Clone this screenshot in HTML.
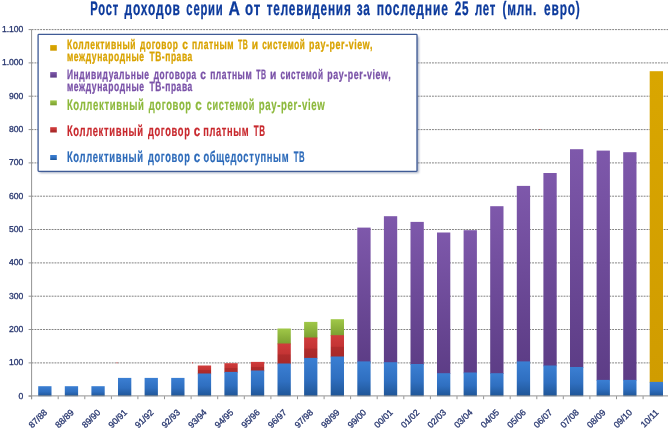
<!DOCTYPE html>
<html lang="ru"><head><meta charset="utf-8"><title>Рост доходов серии А</title>
<style>
html,body{margin:0;padding:0;background:#fff;}
body{width:668px;height:430px;overflow:hidden;}
svg{display:block;}
text{font-family:"Liberation Sans","DejaVu Sans",sans-serif;text-rendering:geometricPrecision;}
.t{font-weight:bold;}
.ax{font-size:8.6px;fill:#27366f;stroke:#27366f;stroke-width:0.3px;}
.xl{font-size:8.8px;fill:#27366f;stroke:#27366f;stroke-width:0.3px;}
</style></head><body>
<svg width="668" height="430" viewBox="0 0 668 430">
<defs>
<linearGradient id="gb" x1="0" y1="0" x2="0" y2="1"><stop offset="0" stop-color="#3b7fd3"/><stop offset="0.55" stop-color="#2f6fc0"/><stop offset="1" stop-color="#1f5596"/></linearGradient>
<linearGradient id="gr" x1="0" y1="0" x2="0" y2="1"><stop offset="0" stop-color="#d03c3c"/><stop offset="0.5" stop-color="#c43434"/><stop offset="0.55" stop-color="#b02c2c"/><stop offset="1" stop-color="#a82828"/></linearGradient>
<linearGradient id="gg" x1="0" y1="0" x2="0" y2="1"><stop offset="0" stop-color="#a0c848"/><stop offset="1" stop-color="#7a9e30"/></linearGradient>
<linearGradient id="gp" x1="0" y1="0" x2="0" y2="1"><stop offset="0" stop-color="#7e58ab"/><stop offset="1" stop-color="#5d3d86"/></linearGradient>
<linearGradient id="gy" x1="0" y1="0" x2="0" y2="1"><stop offset="0" stop-color="#d9a600"/><stop offset="1" stop-color="#d09c00"/></linearGradient>
<filter id="sh" x="-5%" y="-5%" width="110%" height="112%"><feGaussianBlur stdDeviation="1.2"/></filter>
</defs>
<rect width="668" height="430" fill="#fff"/>

<line x1="31.6" y1="362.9" x2="668" y2="362.9" stroke="#828282" stroke-width="1" stroke-dasharray="1.9 0.96"/>
<line x1="31.6" y1="329.5" x2="668" y2="329.5" stroke="#828282" stroke-width="1" stroke-dasharray="1.9 0.96"/>
<line x1="31.6" y1="296.2" x2="668" y2="296.2" stroke="#828282" stroke-width="1" stroke-dasharray="1.9 0.96"/>
<line x1="31.6" y1="262.9" x2="668" y2="262.9" stroke="#828282" stroke-width="1" stroke-dasharray="1.9 0.96"/>
<line x1="31.6" y1="229.5" x2="668" y2="229.5" stroke="#828282" stroke-width="1" stroke-dasharray="1.9 0.96"/>
<line x1="31.6" y1="196.2" x2="668" y2="196.2" stroke="#828282" stroke-width="1" stroke-dasharray="1.9 0.96"/>
<line x1="31.6" y1="162.9" x2="668" y2="162.9" stroke="#828282" stroke-width="1" stroke-dasharray="1.9 0.96"/>
<line x1="31.6" y1="129.6" x2="668" y2="129.6" stroke="#828282" stroke-width="1" stroke-dasharray="1.9 0.96"/>
<line x1="31.6" y1="96.2" x2="668" y2="96.2" stroke="#828282" stroke-width="1" stroke-dasharray="1.9 0.96"/>
<line x1="31.6" y1="62.9" x2="668" y2="62.9" stroke="#828282" stroke-width="1" stroke-dasharray="1.9 0.96"/>
<line x1="31.6" y1="29.6" x2="668" y2="29.6" stroke="#828282" stroke-width="1" stroke-dasharray="1.9 0.96"/>
<rect x="38.2" y="386.2" width="13.3" height="10.0" fill="url(#gb)"/>
<rect x="64.8" y="386.2" width="13.3" height="10.0" fill="url(#gb)"/>
<rect x="91.4" y="386.2" width="13.3" height="10.0" fill="url(#gb)"/>
<rect x="118.0" y="377.9" width="13.3" height="18.3" fill="url(#gb)"/>
<rect x="144.6" y="377.9" width="13.3" height="18.3" fill="url(#gb)"/>
<rect x="171.2" y="377.9" width="13.3" height="18.3" fill="url(#gb)"/>
<rect x="197.8" y="365.5" width="13.3" height="8.8" fill="url(#gr)"/>
<rect x="197.8" y="373.5" width="13.3" height="22.7" fill="url(#gb)"/>
<rect x="224.4" y="363.2" width="13.3" height="9.5" fill="url(#gr)"/>
<rect x="224.4" y="371.9" width="13.3" height="24.3" fill="url(#gb)"/>
<rect x="250.9" y="361.9" width="13.3" height="9.5" fill="url(#gr)"/>
<rect x="250.9" y="370.5" width="13.3" height="25.7" fill="url(#gb)"/>
<rect x="277.5" y="328.5" width="13.3" height="15.8" fill="url(#gg)"/>
<rect x="277.5" y="343.5" width="13.3" height="20.8" fill="url(#gr)"/>
<rect x="277.5" y="363.5" width="13.3" height="32.7" fill="url(#gb)"/>
<rect x="304.1" y="321.9" width="13.3" height="16.5" fill="url(#gg)"/>
<rect x="304.1" y="337.5" width="13.3" height="21.1" fill="url(#gr)"/>
<rect x="304.1" y="357.9" width="13.3" height="38.3" fill="url(#gb)"/>
<rect x="330.7" y="319.2" width="13.3" height="16.8" fill="url(#gg)"/>
<rect x="330.7" y="335.2" width="13.3" height="22.1" fill="url(#gr)"/>
<rect x="330.7" y="356.5" width="13.3" height="39.7" fill="url(#gb)"/>
<rect x="357.3" y="227.6" width="13.3" height="134.6" fill="url(#gp)"/>
<rect x="357.3" y="361.4" width="13.3" height="34.8" fill="url(#gb)"/>
<rect x="383.9" y="216.2" width="13.3" height="146.8" fill="url(#gp)"/>
<rect x="383.9" y="362.2" width="13.3" height="34.0" fill="url(#gb)"/>
<rect x="410.5" y="221.9" width="13.3" height="143.0" fill="url(#gp)"/>
<rect x="410.5" y="364.0" width="13.3" height="32.2" fill="url(#gb)"/>
<rect x="437.0" y="232.5" width="13.3" height="141.5" fill="url(#gp)"/>
<rect x="437.0" y="373.2" width="13.3" height="23.0" fill="url(#gb)"/>
<rect x="463.6" y="230.2" width="13.3" height="143.1" fill="url(#gp)"/>
<rect x="463.6" y="372.5" width="13.3" height="23.7" fill="url(#gb)"/>
<rect x="490.2" y="206.2" width="13.3" height="167.8" fill="url(#gp)"/>
<rect x="490.2" y="373.2" width="13.3" height="23.0" fill="url(#gb)"/>
<rect x="516.8" y="185.9" width="13.3" height="176.3" fill="url(#gp)"/>
<rect x="516.8" y="361.4" width="13.3" height="34.8" fill="url(#gb)"/>
<rect x="543.4" y="173.0" width="13.3" height="193.3" fill="url(#gp)"/>
<rect x="543.4" y="365.5" width="13.3" height="30.7" fill="url(#gb)"/>
<rect x="570.0" y="149.2" width="13.3" height="218.6" fill="url(#gp)"/>
<rect x="570.0" y="367.0" width="13.3" height="29.2" fill="url(#gb)"/>
<rect x="596.6" y="150.6" width="13.3" height="230.1" fill="url(#gp)"/>
<rect x="596.6" y="379.9" width="13.3" height="16.3" fill="url(#gb)"/>
<rect x="623.2" y="152.2" width="13.3" height="228.4" fill="url(#gp)"/>
<rect x="623.2" y="379.9" width="13.3" height="16.3" fill="url(#gb)"/>
<rect x="649.7" y="71.2" width="13.3" height="311.4" fill="url(#gy)"/>
<rect x="649.7" y="381.9" width="13.3" height="14.3" fill="url(#gb)"/>
<line x1="31.6" y1="29.6" x2="31.6" y2="399.2" stroke="#939393" stroke-width="1"/>
<line x1="28.6" y1="395.9" x2="668" y2="395.9" stroke="#939393" stroke-width="1"/>
<line x1="28.6" y1="396.2" x2="31.6" y2="396.2" stroke="#939393" stroke-width="1"/>
<line x1="28.6" y1="362.9" x2="31.6" y2="362.9" stroke="#939393" stroke-width="1"/>
<line x1="28.6" y1="329.5" x2="31.6" y2="329.5" stroke="#939393" stroke-width="1"/>
<line x1="28.6" y1="296.2" x2="31.6" y2="296.2" stroke="#939393" stroke-width="1"/>
<line x1="28.6" y1="262.9" x2="31.6" y2="262.9" stroke="#939393" stroke-width="1"/>
<line x1="28.6" y1="229.5" x2="31.6" y2="229.5" stroke="#939393" stroke-width="1"/>
<line x1="28.6" y1="196.2" x2="31.6" y2="196.2" stroke="#939393" stroke-width="1"/>
<line x1="28.6" y1="162.9" x2="31.6" y2="162.9" stroke="#939393" stroke-width="1"/>
<line x1="28.6" y1="129.6" x2="31.6" y2="129.6" stroke="#939393" stroke-width="1"/>
<line x1="28.6" y1="96.2" x2="31.6" y2="96.2" stroke="#939393" stroke-width="1"/>
<line x1="28.6" y1="62.9" x2="31.6" y2="62.9" stroke="#939393" stroke-width="1"/>
<line x1="28.6" y1="29.6" x2="31.6" y2="29.6" stroke="#939393" stroke-width="1"/>
<line x1="31.6" y1="396.2" x2="31.6" y2="399.2" stroke="#939393" stroke-width="1"/>
<line x1="58.2" y1="396.2" x2="58.2" y2="399.2" stroke="#939393" stroke-width="1"/>
<line x1="84.8" y1="396.2" x2="84.8" y2="399.2" stroke="#939393" stroke-width="1"/>
<line x1="111.4" y1="396.2" x2="111.4" y2="399.2" stroke="#939393" stroke-width="1"/>
<line x1="137.9" y1="396.2" x2="137.9" y2="399.2" stroke="#939393" stroke-width="1"/>
<line x1="164.5" y1="396.2" x2="164.5" y2="399.2" stroke="#939393" stroke-width="1"/>
<line x1="191.1" y1="396.2" x2="191.1" y2="399.2" stroke="#939393" stroke-width="1"/>
<line x1="217.7" y1="396.2" x2="217.7" y2="399.2" stroke="#939393" stroke-width="1"/>
<line x1="244.3" y1="396.2" x2="244.3" y2="399.2" stroke="#939393" stroke-width="1"/>
<line x1="270.9" y1="396.2" x2="270.9" y2="399.2" stroke="#939393" stroke-width="1"/>
<line x1="297.5" y1="396.2" x2="297.5" y2="399.2" stroke="#939393" stroke-width="1"/>
<line x1="324.1" y1="396.2" x2="324.1" y2="399.2" stroke="#939393" stroke-width="1"/>
<line x1="350.6" y1="396.2" x2="350.6" y2="399.2" stroke="#939393" stroke-width="1"/>
<line x1="377.2" y1="396.2" x2="377.2" y2="399.2" stroke="#939393" stroke-width="1"/>
<line x1="403.8" y1="396.2" x2="403.8" y2="399.2" stroke="#939393" stroke-width="1"/>
<line x1="430.4" y1="396.2" x2="430.4" y2="399.2" stroke="#939393" stroke-width="1"/>
<line x1="457.0" y1="396.2" x2="457.0" y2="399.2" stroke="#939393" stroke-width="1"/>
<line x1="483.6" y1="396.2" x2="483.6" y2="399.2" stroke="#939393" stroke-width="1"/>
<line x1="510.2" y1="396.2" x2="510.2" y2="399.2" stroke="#939393" stroke-width="1"/>
<line x1="536.8" y1="396.2" x2="536.8" y2="399.2" stroke="#939393" stroke-width="1"/>
<line x1="563.3" y1="396.2" x2="563.3" y2="399.2" stroke="#939393" stroke-width="1"/>
<line x1="589.9" y1="396.2" x2="589.9" y2="399.2" stroke="#939393" stroke-width="1"/>
<line x1="616.5" y1="396.2" x2="616.5" y2="399.2" stroke="#939393" stroke-width="1"/>
<line x1="643.1" y1="396.2" x2="643.1" y2="399.2" stroke="#939393" stroke-width="1"/>
<line x1="669.7" y1="396.2" x2="669.7" y2="399.2" stroke="#939393" stroke-width="1"/>
<text class="ax" x="23.4" y="398.7" text-anchor="end">0</text>
<text class="ax" x="23.4" y="365.4" text-anchor="end">100</text>
<text class="ax" x="23.4" y="332.0" text-anchor="end">200</text>
<text class="ax" x="23.4" y="298.7" text-anchor="end">300</text>
<text class="ax" x="23.4" y="265.4" text-anchor="end">400</text>
<text class="ax" x="23.4" y="232.0" text-anchor="end">500</text>
<text class="ax" x="23.4" y="198.7" text-anchor="end">600</text>
<text class="ax" x="23.4" y="165.4" text-anchor="end">700</text>
<text class="ax" x="23.4" y="132.1" text-anchor="end">800</text>
<text class="ax" x="23.4" y="98.7" text-anchor="end">900</text>
<text class="ax" x="23.4" y="65.4" text-anchor="end">1.000</text>
<text class="ax" x="23.4" y="32.1" text-anchor="end">1.100</text>
<text class="xl" transform="translate(47.8,413.0) rotate(-45)" text-anchor="end">87/88</text>
<text class="xl" transform="translate(74.4,413.0) rotate(-45)" text-anchor="end">88/89</text>
<text class="xl" transform="translate(101.0,413.0) rotate(-45)" text-anchor="end">89/90</text>
<text class="xl" transform="translate(127.6,413.0) rotate(-45)" text-anchor="end">90/91</text>
<text class="xl" transform="translate(154.1,413.0) rotate(-45)" text-anchor="end">91/92</text>
<text class="xl" transform="translate(180.7,413.0) rotate(-45)" text-anchor="end">92/93</text>
<text class="xl" transform="translate(207.3,413.0) rotate(-45)" text-anchor="end">93/94</text>
<text class="xl" transform="translate(233.9,413.0) rotate(-45)" text-anchor="end">94/95</text>
<text class="xl" transform="translate(260.5,413.0) rotate(-45)" text-anchor="end">95/96</text>
<text class="xl" transform="translate(287.1,413.0) rotate(-45)" text-anchor="end">96/97</text>
<text class="xl" transform="translate(313.7,413.0) rotate(-45)" text-anchor="end">97/98</text>
<text class="xl" transform="translate(340.3,413.0) rotate(-45)" text-anchor="end">98/99</text>
<text class="xl" transform="translate(366.8,413.0) rotate(-45)" text-anchor="end">99/00</text>
<text class="xl" transform="translate(393.4,413.0) rotate(-45)" text-anchor="end">00/01</text>
<text class="xl" transform="translate(420.0,413.0) rotate(-45)" text-anchor="end">01/02</text>
<text class="xl" transform="translate(446.6,413.0) rotate(-45)" text-anchor="end">02/03</text>
<text class="xl" transform="translate(473.2,413.0) rotate(-45)" text-anchor="end">03/04</text>
<text class="xl" transform="translate(499.8,413.0) rotate(-45)" text-anchor="end">04/05</text>
<text class="xl" transform="translate(526.4,413.0) rotate(-45)" text-anchor="end">05/06</text>
<text class="xl" transform="translate(552.9,413.0) rotate(-45)" text-anchor="end">06/07</text>
<text class="xl" transform="translate(579.5,413.0) rotate(-45)" text-anchor="end">07/08</text>
<text class="xl" transform="translate(606.1,413.0) rotate(-45)" text-anchor="end">08/09</text>
<text class="xl" transform="translate(632.7,413.0) rotate(-45)" text-anchor="end">09/10</text>
<text class="xl" transform="translate(659.3,413.0) rotate(-45)" text-anchor="end">10/11</text>
<rect x="116.5" y="362.3" width="1" height="1" fill="#d04040"/>
<rect x="192.0" y="362.3" width="1" height="1" fill="#d04040"/>
<rect x="539.4" y="129.0" width="1" height="1" fill="#d04040"/>
<rect x="39.5" y="36.5" width="379.3" height="136.5" fill="#5a6a90" opacity="0.55" filter="url(#sh)"/>
<rect x="38.1" y="34.4" width="378.9" height="136.9" rx="0.8" fill="#fff" stroke="#3f5b96" stroke-width="1.3"/>
<rect x="50.2" y="45.1" width="6.6" height="5.6" fill="url(#gy)"/>
<rect x="50.2" y="72.1" width="6.6" height="5.5" fill="url(#gp)"/>
<rect x="50.2" y="100.4" width="6.6" height="4.9" fill="url(#gg)"/>
<rect x="50.2" y="127.2" width="6.6" height="5.3" fill="url(#gr)"/>
<rect x="50.2" y="155" width="6.6" height="5" fill="url(#gb)"/>
<text class="t" y="48.6" font-size="13.6" letter-spacing="0.95" fill="#d9a300" stroke="#d9a300" stroke-width="0.3"><tspan x="66.94" textLength="69.19" lengthAdjust="spacingAndGlyphs">Коллективный</tspan> <tspan x="140.00" textLength="38.40" lengthAdjust="spacingAndGlyphs">договор</tspan> <tspan x="182.13" textLength="6.35" lengthAdjust="spacingAndGlyphs">с</tspan> <tspan x="191.94" textLength="42.19" lengthAdjust="spacingAndGlyphs">платным</tspan> <tspan x="237.95" textLength="10.31" lengthAdjust="spacingAndGlyphs">ТВ</tspan> <tspan x="251.82" textLength="7.05" lengthAdjust="spacingAndGlyphs">и</tspan> <tspan x="262.20" textLength="43.14" lengthAdjust="spacingAndGlyphs">системой</tspan> <tspan x="308.98" textLength="64.11" lengthAdjust="spacingAndGlyphs">pay-per-view,</tspan></text>
<text class="t" y="60.6" font-size="13.6" letter-spacing="0.95" fill="#d9a300" stroke="#d9a300" stroke-width="0.3"><tspan x="66.94" textLength="77.70" lengthAdjust="spacingAndGlyphs">международные</tspan> <tspan x="149.44" textLength="43.37" lengthAdjust="spacingAndGlyphs">ТВ-права</tspan></text>
<text class="t" y="78.6" font-size="13.6" letter-spacing="0.95" fill="#7a52a8" stroke="#7a52a8" stroke-width="0.3"><tspan x="66.94" textLength="82.69" lengthAdjust="spacingAndGlyphs">Индивидуальные</tspan> <tspan x="153.75" textLength="43.00" lengthAdjust="spacingAndGlyphs">договора</tspan> <tspan x="200.33" textLength="6.35" lengthAdjust="spacingAndGlyphs">с</tspan> <tspan x="210.14" textLength="42.19" lengthAdjust="spacingAndGlyphs">платным</tspan> <tspan x="256.15" textLength="10.31" lengthAdjust="spacingAndGlyphs">ТВ</tspan> <tspan x="270.02" textLength="7.05" lengthAdjust="spacingAndGlyphs">и</tspan> <tspan x="280.40" textLength="43.14" lengthAdjust="spacingAndGlyphs">системой</tspan> <tspan x="327.18" textLength="64.11" lengthAdjust="spacingAndGlyphs">pay-per-view,</tspan></text>
<text class="t" y="91.3" font-size="13.6" letter-spacing="0.95" fill="#7a52a8" stroke="#7a52a8" stroke-width="0.3"><tspan x="66.94" textLength="77.70" lengthAdjust="spacingAndGlyphs">международные</tspan> <tspan x="149.44" textLength="43.37" lengthAdjust="spacingAndGlyphs">ТВ-права</tspan></text>
<text class="t" y="109.9" font-size="15.4" letter-spacing="1.08" fill="#8db93c" stroke="#8db93c" stroke-width="0.2"><tspan x="66.88" textLength="77.70" lengthAdjust="spacingAndGlyphs">Коллективный</tspan> <tspan x="148.69" textLength="43.09" lengthAdjust="spacingAndGlyphs">договор</tspan> <tspan x="195.14" textLength="7.36" lengthAdjust="spacingAndGlyphs">с</tspan> <tspan x="206.64" textLength="48.39" lengthAdjust="spacingAndGlyphs">системой</tspan> <tspan x="258.63" textLength="66.77" lengthAdjust="spacingAndGlyphs">pay-per-view</tspan></text>
<text class="t" y="135.8" font-size="15.4" letter-spacing="1.08" fill="#c8282d" stroke="#c8282d" stroke-width="0.2"><tspan x="66.89" textLength="76.93" lengthAdjust="spacingAndGlyphs">Коллективный</tspan> <tspan x="147.94" textLength="42.58" lengthAdjust="spacingAndGlyphs">договор</tspan> <tspan x="193.80" textLength="7.30" lengthAdjust="spacingAndGlyphs">с</tspan> <tspan x="203.15" textLength="46.10" lengthAdjust="spacingAndGlyphs">платным</tspan> <tspan x="253.70" textLength="11.78" lengthAdjust="spacingAndGlyphs">ТВ</tspan></text>
<text class="t" y="161.85" font-size="15.4" letter-spacing="1.08" fill="#2d6bba" stroke="#2d6bba" stroke-width="0.2"><tspan x="66.89" textLength="76.93" lengthAdjust="spacingAndGlyphs">Коллективный</tspan> <tspan x="147.94" textLength="42.58" lengthAdjust="spacingAndGlyphs">договор</tspan> <tspan x="193.80" textLength="7.30" lengthAdjust="spacingAndGlyphs">с</tspan> <tspan x="203.39" textLength="85.87" lengthAdjust="spacingAndGlyphs">общедоступным</tspan> <tspan x="293.70" textLength="11.40" lengthAdjust="spacingAndGlyphs">ТВ</tspan></text>
<text class="t" y="14.7" font-size="19.5" letter-spacing="1.37" fill="#0c3a9c" stroke="#0c3a9c" stroke-width="0.3"><tspan x="90.25" textLength="28.79" lengthAdjust="spacingAndGlyphs">Рост</tspan> <tspan x="124.44" textLength="56.32" lengthAdjust="spacingAndGlyphs">доходов</tspan> <tspan x="186.35" textLength="37.19" lengthAdjust="spacingAndGlyphs">серии</tspan> <tspan x="228.42" textLength="12.58" lengthAdjust="spacingAndGlyphs">А</tspan> <tspan x="245.02" textLength="16.22" lengthAdjust="spacingAndGlyphs">от</tspan> <tspan x="266.70" textLength="84.90" lengthAdjust="spacingAndGlyphs">телевидения</tspan> <tspan x="356.69" textLength="14.04" lengthAdjust="spacingAndGlyphs">за</tspan> <tspan x="376.70" textLength="72.05" lengthAdjust="spacingAndGlyphs">последние</tspan> <tspan x="454.64" textLength="14.70" lengthAdjust="spacingAndGlyphs">25</tspan> <tspan x="474.88" textLength="21.17" lengthAdjust="spacingAndGlyphs">лет</tspan> <tspan x="502.45" textLength="34.77" lengthAdjust="spacingAndGlyphs">(млн.</tspan> <tspan x="544.07" textLength="36.55" lengthAdjust="spacingAndGlyphs">евро)</tspan></text>
</svg></body></html>
